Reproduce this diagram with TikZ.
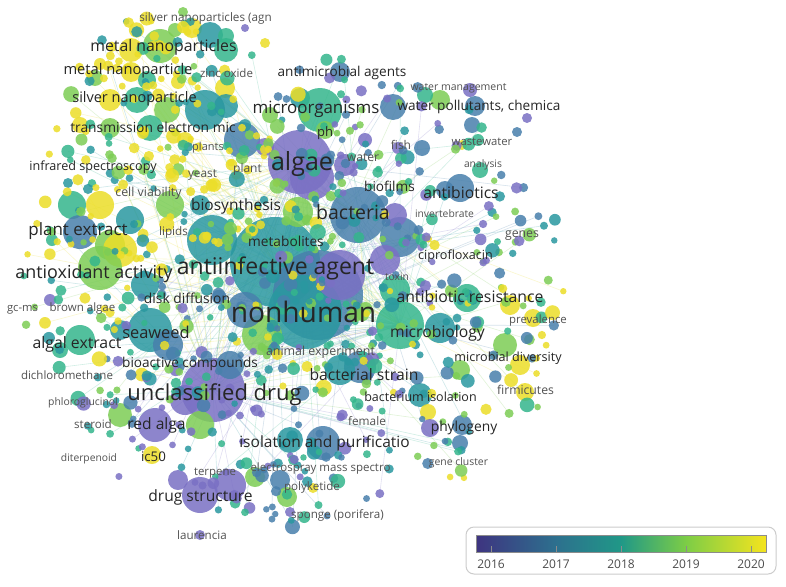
\documentclass[tikz,border=0pt]{standalone}
\usepackage{fontspec}
\newfontfamily\osans{Open Sans}
\definecolor{vc0}{RGB}{122,112,196}
\definecolor{vc1}{RGB}{72,128,172}
\definecolor{vc2}{RGB}{42,152,160}
\definecolor{vc3}{RGB}{52,182,140}
\definecolor{vc4}{RGB}{125,205,85}
\definecolor{vc5}{RGB}{236,222,40}
\definecolor{cb0}{RGB}{62,52,128}
\definecolor{cb1}{RGB}{45,112,142}
\definecolor{cb2}{RGB}{32,152,135}
\definecolor{cb3}{RGB}{125,205,70}
\definecolor{cb4}{RGB}{245,228,30}
\newcommand\kw[5]{\node[kw] (#1) at (#2,{#3+0.32*#4}) {\fontsize{#4}{#4}\selectfont\ifdim #4pt<12.5pt\color{black!68}\else\color{black!85}\fi #5};}
\newcommand\bb[4]{\fill[bubble, fill=vc#4] (#1,#2) circle[radius=#3];}
\newcommand\genpt{%
  \pgfmathsetmacro\px{12+568*rnd}%
  \pgfmathsetmacro\py{10+535*rnd}%
  \pgfmathsetmacro\ua{(\px-295)/275}%
  \pgfmathsetmacro\va{(\py-295)/240}%
  \pgfmathsetmacro\ub{(\px-175)/135}%
  \pgfmathsetmacro\vb{(\py-150)/140}%
  \pgfmathsetmacro\dd{min(\ua*\ua+\va*\va,\ub*\ub+\vb*\vb)}%
  \pgfmathsetmacro\acc{rnd}%
  \pgfmathtruncatemacro\ok{((\dd<1) && (\acc>0.6*\dd*sqrt(\dd))) ? 1 : 0}%
  \pgfmathsetmacro\br{3.2+5*rnd*rnd}%
  \pgfmathsetmacro\bias{(\px<270 && \py<270) ? 0.3 : ((\py>400 && \px<390) ? -0.3 : ((\px>430 && \py>290) ? 0.15 : ((\px>330 && \py<200) ? -0.1 : 0)))}%
  \pgfmathtruncatemacro\ci{min(5,max(0,floor(6*(0.85*rnd+0.075+\bias))))}%
  \pgfmathtruncatemacro\hub{floor(5.999*rnd)}%
  \pgfmathtruncatemacro\edge{(rnd<0.45) ? 1 : 0}%
}
\begin{document}
\begin{tikzpicture}[x=1pt,y=-1pt,
  bubble/.style={fill opacity=0.85},
  edgeline/.style={line width=0.6pt, draw opacity=0.32},
  kw/.style={anchor=base, inner sep=0pt, font=\osans},
  ticklab/.style={font=\osans\fontsize{12}{12}\selectfont, text=black!70, inner sep=0pt}]
\fill[white] (0,0) rectangle (786,586);
\useasboundingbox (0,0) rectangle (786,586);
% hubs
\coordinate (hub0) at (305,310);
\coordinate (hub1) at (300,162);
\coordinate (hub2) at (275,262);
\coordinate (hub3) at (213,390);
\coordinate (hub4) at (358,215);
\coordinate (hub5) at (400,325);
% edges
\pgfmathsetseed{4242}
\foreach \i in {1,...,1400}{\genpt\ifnum\ok=1 \ifnum\edge=1 \draw[edgeline, draw=vc\ci!70!white] (\px,\py) -- (hub\hub);\fi\fi}
% large bubbles
\bb{275}{262}{45}{2}
\bb{318}{295}{45}{1}
\bb{305}{312}{37}{2}
\bb{262}{335}{20}{4}
\bb{212}{240}{25}{2}
\bb{340}{275}{25}{0}
\bb{245}{310}{18}{1}
\bb{300}{162}{32}{0}
\bb{312}{178}{22}{0}
\bb{358}{215}{28}{1}
\bb{400}{237}{20}{1}
\bb{213}{390}{32}{0}
\bb{400}{325}{24}{3}
% top-left / top
\bb{183}{12}{5}{4}
\bb{175}{30}{7}{4}
\bb{192}{28}{10}{5}
\bb{210}{35}{13}{2}
\bb{226}{36}{8}{3}
\bb{160}{46}{17}{4}
\bb{131}{50}{12}{5}
\bb{226}{50}{12}{3}
\bb{265}{43}{5}{5}
\bb{245}{28}{4}{0}
\bb{131}{72}{10}{5}
\bb{95}{78}{8}{4}
\bb{100}{64}{6}{5}
\bb{147}{80}{9}{3}
\bb{178}{82}{7}{5}
\bb{225}{88}{10}{5}
\bb{137}{100}{13}{3}
\bb{110}{100}{11}{5}
\bb{167}{110}{13}{4}
\bb{205}{110}{20}{2}
\bb{226}{106}{12}{2}
\bb{80}{125}{8}{5}
\bb{110}{128}{10}{4}
\bb{150}{128}{13}{3}
\bb{185}{140}{8}{5}
\bb{242}{140}{18}{1}
\bb{265}{147}{9}{0}
\bb{340}{72}{10}{1}
\bb{300}{98}{10}{2}
\bb{320}{110}{22}{3}
\bb{325}{130}{9}{4}
\bb{270}{115}{8}{4}
\bb{345}{165}{11}{0}
\bb{365}{140}{7}{0}
\bb{398}{148}{6}{0}
\bb{422}{148}{8}{1}
\bb{393}{107}{13}{1}
\bb{440}{100}{10}{4}
\bb{425}{95}{8}{3}
\bb{470}{90}{7}{0}
\bb{475}{106}{10}{1}
\bb{472}{125}{8}{1}
\bb{478}{140}{6}{3}
\bb{462}{145}{5}{5}
\bb{480}{170}{8}{3}
\bb{460}{188}{14}{1}
\bb{445}{190}{9}{1}
\bb{527}{118}{5}{0}
\bb{517}{132}{5}{1}
% left
\bb{68}{183}{5}{2}
\bb{100}{205}{14}{5}
\bb{72}{205}{14}{3}
\bb{130}{220}{14}{2}
\bb{80}{232}{17}{1}
\bb{110}{245}{15}{4}
\bb{120}{250}{17}{5}
\bb{100}{268}{22}{4}
\bb{145}{285}{14}{2}
\bb{52}{240}{6}{3}
\bb{170}{205}{14}{4}
\bb{200}{205}{10}{2}
\bb{150}{330}{22}{2}
\bb{168}{345}{15}{1}
\bb{120}{330}{10}{2}
\bb{80}{340}{15}{3}
\bb{60}{350}{8}{3}
\bb{50}{300}{6}{0}
% centre and right
\bb{298}{212}{15}{4}
\bb{395}{215}{12}{0}
\bb{385}{260}{15}{0}
\bb{440}{328}{15}{2}
\bb{395}{290}{15}{3}
\bb{467}{298}{14}{3}
\bb{510}{305}{10}{5}
\bb{533}{318}{9}{5}
\bb{505}{345}{12}{4}
\bb{520}{365}{10}{5}
\bb{460}{370}{10}{4}
\bb{360}{367}{16}{1}
\bb{340}{370}{15}{2}
\bb{230}{365}{14}{1}
\bb{185}{400}{15}{0}
\bb{155}{425}{17}{0}
\bb{200}{425}{14}{4}
\bb{120}{415}{12}{4}
\bb{152}{455}{9}{5}
\bb{200}{495}{18}{0}
\bb{230}{485}{16}{0}
\bb{178}{480}{10}{0}
\bb{323}{443}{17}{1}
\bb{290}{440}{13}{2}
\bb{420}{395}{12}{2}
\bb{428}{412}{8}{5}
\bb{462}{425}{10}{1}
\bb{430}{428}{9}{0}
\bb{460}{443}{8}{1}
\bb{525}{392}{9}{5}
\bb{255}{477}{10}{4}
\bb{280}{480}{10}{1}
\bb{313}{488}{5}{5}
\bb{287}{497}{10}{4}
\bb{290}{512}{5}{0}
\bb{200}{535}{5}{0}
% small bubbles
\pgfmathsetseed{4242}
\foreach \i in {1,...,1400}{\genpt\ifnum\ok=1 \fill[bubble, fill=vc\ci] (\px,\py) circle[radius=\br];\fi}
% labels
\kw{l1}{205.5}{18}{11.7}{silver nanoparticles (agn}
\kw{l2}{163.5}{46}{15.8}{metal nanoparticles}
\kw{l3}{128}{70}{14.7}{metal nanoparticle}
\kw{l4}{226.5}{74}{11.5}{zinc oxide}
\kw{l5}{342}{72}{13.6}{antimicrobial agents}
\kw{l6}{458.5}{87}{10.5}{water management}
\kw{l7}{479}{106}{13.6}{water pollutants, chemica}
\kw{l8}{134.5}{98}{14.5}{silver nanoparticle}
\kw{l9}{316}{108}{16.9}{microorganisms}
\kw{l10}{153}{128}{13.8}{transmission electron mic}
\kw{l11}{325}{132}{13}{ph}
\kw{l12}{208}{147}{11}{plants}
\kw{l13}{401}{146}{12}{fish}
\kw{l14}{302}{162}{25}{algae}
\kw{l15}{363}{158}{12.2}{water}
\kw{l16}{482}{142}{11.3}{wastewater}
\kw{l17}{483}{164}{10.3}{analysis}
\kw{l18}{93}{166}{12.6}{infrared spectroscopy}
\kw{l19}{202.5}{174}{11.8}{yeast}
\kw{l20}{247.5}{169}{12}{plant}
\kw{l21}{389.5}{187}{13.6}{biofilms}
\kw{l22}{148.5}{193}{12.4}{cell viability}
\kw{l23}{461}{193}{15.7}{antibiotics}
\kw{l24}{236}{206}{15.5}{biosynthesis}
\kw{l25}{353}{213}{19.5}{bacteria}
\kw{l26}{444.5}{214}{10.3}{invertebrate}
\kw{l27}{522}{234}{12.3}{genes}
\kw{l28}{78}{230}{17}{plant extract}
\kw{l29}{173.5}{232}{11.7}{lipids}
\kw{l30}{286}{242}{13.7}{metabolites}
\kw{l31}{455.5}{255}{12.6}{ciprofloxacin}
\kw{l32}{275.5}{267}{23}{antiinfective agent}
\kw{l33}{94}{273}{17.9}{antioxidant activity}
\kw{l34}{397}{277}{10.3}{toxin}
\kw{l35}{187}{299}{13.8}{disk diffusion}
\kw{l36}{470}{297}{15.8}{antibiotic resistance}
\kw{l37}{22.5}{308}{11.2}{gc-ms}
\kw{l38}{82.5}{308}{11.5}{brown algae}
\kw{l39}{303.5}{313}{28.2}{nonhuman}
\kw{l40}{538}{320}{11.4}{prevalence}
\kw{l41}{437.5}{332}{15.7}{microbiology}
\kw{l42}{156}{333}{16.4}{seaweed}
\kw{l43}{77}{343}{15.8}{algal extract}
\kw{l44}{320.5}{352}{12.4}{animal experiment}
\kw{l45}{508}{357}{12.6}{microbial diversity}
\kw{l46}{190}{363}{13.6}{bioactive compounds}
\kw{l47}{67}{376}{11.5}{dichloromethane}
\kw{l48}{364}{375}{15.7}{bacterial strain}
\kw{l49}{214.5}{393}{22}{unclassified drug}
\kw{l50}{83}{402}{10.4}{phloroglucinol}
\kw{l51}{420.5}{397}{12.5}{bacterium isolation}
\kw{l52}{525.5}{391}{12.2}{firmicutes}
\kw{l53}{93}{425}{11.6}{steroid}
\kw{l54}{156.5}{425}{15.6}{red alga}
\kw{l55}{367}{422}{11.8}{female}
\kw{l56}{464}{427}{13.8}{phylogeny}
\kw{l57}{324.5}{443}{15.5}{isolation and purificatio}
\kw{l58}{89}{458}{10.3}{diterpenoid}
\kw{l59}{153.5}{457}{13.3}{ic50}
\kw{l60}{458.5}{462}{10.4}{gene cluster}
\kw{l61}{215}{472}{11.4}{terpene}
\kw{l62}{320.5}{468}{11.5}{electrospray mass spectro}
\kw{l63}{312}{487}{11.6}{polyketide}
\kw{l64}{200.5}{497}{15.6}{drug structure}
\kw{l65}{337.5}{515}{11.6}{sponge (porifera)}
\kw{l66}{202}{536}{11.6}{laurencia}
% legend
\draw[rounded corners=8pt, draw=black!20, line width=1pt, fill=white] (466,527) rectangle (776,574);
\shade[left color=cb0, right color=cb1] (476,535) rectangle (556.3,552);
\shade[left color=cb1, right color=cb2] (556,535) rectangle (621.3,552);
\shade[left color=cb2, right color=cb3] (621,535) rectangle (686.3,552);
\shade[left color=cb3, right color=cb4] (686,535) rectangle (766,552);
\draw[black!45, line width=0.8pt] (476,535) rectangle (766,552);
\foreach \tx in {491,556,621,686,751}{\draw[black!45, line width=0.8pt] (\tx,552) -- (\tx,546);}
\node[ticklab] (y16) at (491,564) {2016};
\node[ticklab] (y17) at (556,564) {2017};
\node[ticklab] (y18) at (621,564) {2018};
\node[ticklab] (y19) at (686,564) {2019};
\node[ticklab] (y20) at (751,564) {2020};
\end{tikzpicture}
\end{document}
